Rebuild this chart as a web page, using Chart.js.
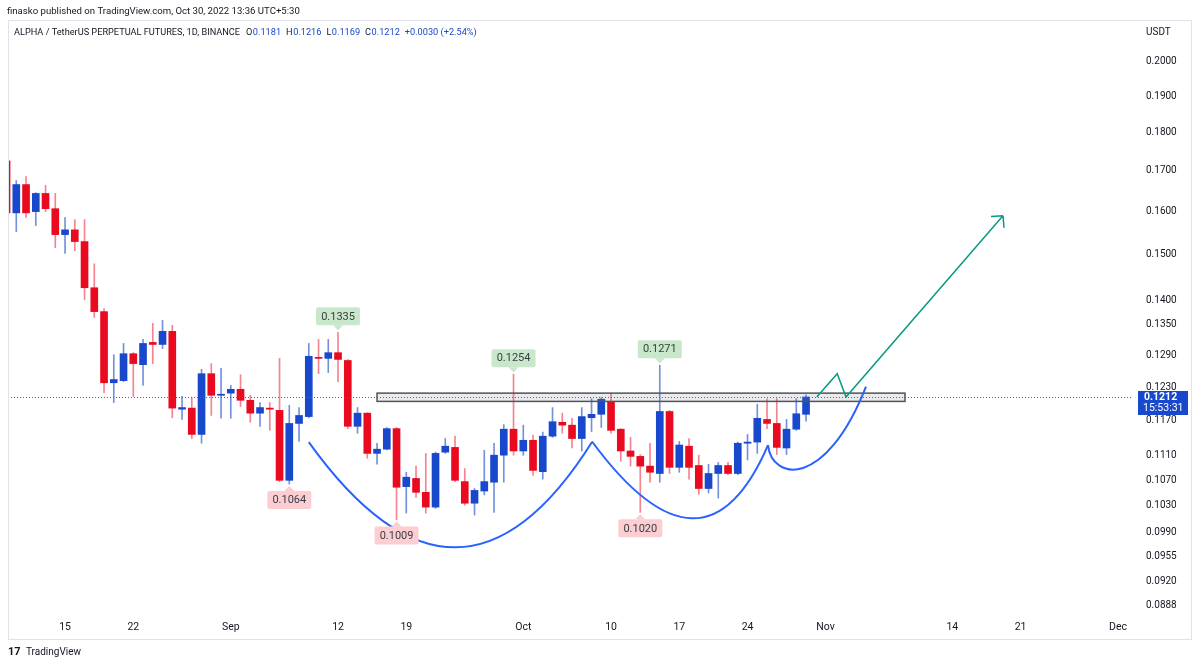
<!DOCTYPE html>
<html>
<head>
<meta charset="utf-8">
<title>ALPHA / TetherUS PERPETUAL FUTURES, 1D</title>
<script src="https://cdn.jsdelivr.net/npm/chart.js@4.4.0/dist/chart.umd.min.js"></script>
<style>
  html, body { margin: 0; padding: 0; background: #fff; }
  #wrap { position: relative; width: 1200px; height: 665px; }
</style>
</head>
<body>
<div id="wrap"><canvas id="alphaChart"></canvas></div>
<script>
// Daily candles ALPHA/USDT perp (Binance), values
const dates = [
  '2022-08-09','2022-08-10','2022-08-11','2022-08-12','2022-08-13','2022-08-14','2022-08-15','2022-08-16',
  '2022-08-17','2022-08-18','2022-08-19','2022-08-20','2022-08-21','2022-08-22','2022-08-23','2022-08-24',
  '2022-08-25','2022-08-26','2022-08-27','2022-08-28','2022-08-29','2022-08-30','2022-08-31',
  '2022-09-01','2022-09-02','2022-09-03','2022-09-04','2022-09-05','2022-09-06','2022-09-07','2022-09-08',
  '2022-09-09','2022-09-10','2022-09-11','2022-09-12','2022-09-13','2022-09-14','2022-09-15','2022-09-16',
  '2022-09-17','2022-09-18','2022-09-19','2022-09-20','2022-09-21','2022-09-22','2022-09-23','2022-09-24',
  '2022-09-25','2022-09-26','2022-09-27','2022-09-28','2022-09-29','2022-09-30',
  '2022-10-01','2022-10-02','2022-10-03','2022-10-04','2022-10-05','2022-10-06','2022-10-07','2022-10-08',
  '2022-10-09','2022-10-10','2022-10-11','2022-10-12','2022-10-13','2022-10-14','2022-10-15','2022-10-16',
  '2022-10-17','2022-10-18','2022-10-19','2022-10-20','2022-10-21','2022-10-22','2022-10-23','2022-10-24',
  '2022-10-25','2022-10-26','2022-10-27','2022-10-28','2022-10-29','2022-10-30'
];
const opens = [
  0.1725, 0.1596, 0.1665, 0.1599, 0.1643, 0.1606, 0.1545, 0.1556, 0.1529, 0.1427, 0.1377, 0.1238,
  0.1242, 0.1293, 0.1272, 0.1315, 0.1311, 0.1337, 0.1190, 0.1192, 0.1146, 0.1255, 0.1215,
  0.1219, 0.1226, 0.1206, 0.1183, 0.1192, 0.1188, 0.1070, 0.1165, 0.1177, 0.1286, 0.1284, 0.1295,
  0.1280, 0.1160, 0.1183, 0.1114, 0.1121, 0.1156, 0.1060, 0.1073, 0.1051, 0.1028, 0.1116, 0.1124,
  0.1068, 0.1034, 0.1053, 0.1067, 0.1111, 0.1155,
  0.1118, 0.1136, 0.1084, 0.1143, 0.1167, 0.1162, 0.1139, 0.1175, 0.1181, 0.1204, 0.1155, 0.1118,
  0.1109, 0.1093, 0.1081, 0.1186, 0.1091, 0.1126, 0.1094, 0.1057, 0.1081, 0.1094, 0.1081, 0.1131,
  0.1133, 0.1172, 0.1165, 0.1123, 0.1155, 0.1181
];
const highs = [
  0.1730, 0.1675, 0.1685, 0.1645, 0.1663, 0.1643, 0.1585, 0.1580, 0.1580, 0.1479, 0.1383, 0.1291,
  0.1313, 0.1295, 0.1321, 0.1353, 0.1359, 0.1349, 0.1213, 0.1211, 0.1263, 0.1274, 0.1265,
  0.1233, 0.1253, 0.1215, 0.1202, 0.1202, 0.1284, 0.1197, 0.1193, 0.1313, 0.1321, 0.1321, 0.1335,
  0.1282, 0.1193, 0.1184, 0.1131, 0.1158, 0.1158, 0.1083, 0.1093, 0.1114, 0.1116, 0.1139, 0.1143,
  0.1089, 0.1057, 0.1119, 0.1131, 0.1163, 0.1254,
  0.1162, 0.1145, 0.1150, 0.1193, 0.1183, 0.1174, 0.1193, 0.1209, 0.1211, 0.1219, 0.1156, 0.1141,
  0.1112, 0.1131, 0.1271, 0.1188, 0.1134, 0.1139, 0.1111, 0.1096, 0.1099, 0.1099, 0.1133, 0.1146,
  0.1199, 0.1208, 0.1209, 0.1172, 0.1209, 0.1216
];
const lows = [
  0.1592, 0.1552, 0.1585, 0.1566, 0.1599, 0.1515, 0.1502, 0.1508, 0.1402, 0.1365, 0.1220, 0.1202,
  0.1240, 0.1213, 0.1233, 0.1274, 0.1303, 0.1175, 0.1172, 0.1139, 0.1131, 0.1179, 0.1174,
  0.1174, 0.1195, 0.1167, 0.1160, 0.1153, 0.1068, 0.1064, 0.1134, 0.1175, 0.1255, 0.1257, 0.1240,
  0.1156, 0.1148, 0.1106, 0.1096, 0.1120, 0.1009, 0.1019, 0.1043, 0.1019, 0.1026, 0.1114, 0.1068,
  0.1031, 0.1016, 0.1047, 0.1020, 0.1067, 0.1111,
  0.1111, 0.1078, 0.1072, 0.1141, 0.1148, 0.1123, 0.1118, 0.1151, 0.1158, 0.1148, 0.1101, 0.1093,
  0.1020, 0.1067, 0.1067, 0.1081, 0.1083, 0.1072, 0.1048, 0.1050, 0.1042, 0.1079, 0.1079, 0.1103,
  0.1114, 0.1156, 0.1112, 0.1112, 0.1153, 0.1169
];
const closes = [
  0.1596, 0.1665, 0.1596, 0.1643, 0.1606, 0.1545, 0.1556, 0.1529, 0.1427, 0.1377, 0.1238, 0.1244,
  0.1293, 0.1274, 0.1313, 0.1311, 0.1337, 0.1192, 0.1193, 0.1146, 0.1255, 0.1215, 0.1217,
  0.1226, 0.1206, 0.1183, 0.1193, 0.1190, 0.1070, 0.1165, 0.1179, 0.1288, 0.1284, 0.1295, 0.1282,
  0.1160, 0.1183, 0.1114, 0.1121, 0.1156, 0.1059, 0.1075, 0.1051, 0.1028, 0.1114, 0.1126, 0.1070,
  0.1034, 0.1054, 0.1068, 0.1111, 0.1155, 0.1118,
  0.1136, 0.1086, 0.1143, 0.1168, 0.1162, 0.1139, 0.1177, 0.1181, 0.1208, 0.1153, 0.1118, 0.1109,
  0.1093, 0.1083, 0.1186, 0.1091, 0.1128, 0.1091, 0.1057, 0.1081, 0.1094, 0.1081, 0.1131, 0.1133,
  0.1174, 0.1165, 0.1124, 0.1155, 0.1182, 0.1212
];

// axis ticks
const tickDates = ['2022-08-15','2022-08-22','2022-09-01','2022-09-12','2022-09-19','2022-10-01','2022-10-10',
                   '2022-10-17','2022-10-24','2022-11-01','2022-11-14','2022-11-21','2022-12-01'];
const tickLabels = ['15','22','Sep','12','19','Oct','10','17','24','Nov','14','21','Dec'];
const priceTicks = [0.2000, 0.1900, 0.1800, 0.1700, 0.1600, 0.1500, 0.1400, 0.1350, 0.1290, 0.1230,
                    0.1170, 0.1110, 0.1070, 0.1030, 0.0990, 0.0955, 0.0920, 0.0888];

// drawings on the chart, as [day since Aug 1, price]
const peakMarks = ['2022-09-12', '2022-09-30', '2022-10-15'];
const troughMarks = ['2022-09-07', '2022-09-18', '2022-10-13'];
const zoneDays = [46.0, 100.15];
const zonePrices = [0.1219, 0.1204];
const cupArcs = [
  [[39.0, 0.1133], [54.0, 0.0968], [68.05, 0.1133]],
  [[68.05, 0.1134], [78.3, 0.1011], [86.1, 0.1128]]
];
const handleCurve = [[86.1, 0.1128], [86.5, 0.1070], [91.95, 0.1054], [96.15, 0.1231]];
const targetPath = [[91.1, 0.1212], [93.2, 0.1255], [94.1, 0.1212], [110.2, 0.1589]];

const headerText = 'finasko published on TradingView.com, Oct 30, 2022 13:36 UTC+5:30';
const legendTitle = 'ALPHA / TetherUS PERPETUAL FUTURES, 1D, BINANCE';
const countdown = '15:53:31';

// view window
const DAY_FROM = 8.15, DAY_TO = 123.33;
const PRICE_MIN = 0.08762, PRICE_MAX = 0.21262;

const UP = '#1848cc';
const DOWN = '#ea0a20';
const WICK_UP = 'rgba(24, 72, 204, 0.6)';
const WICK_DOWN = 'rgba(234, 10, 32, 0.5)';
const TEXT = '#131722';
const FONT = 'Roboto, "Liberation Sans", sans-serif';

const toDay = d => (Date.parse(d) - Date.parse('2022-08-01')) / 86400000;
const isUp = i => closes[i] >= opens[i];

const wickData = dates.map((d, i) => ({ x: toDay(d), y: [lows[i], highs[i]] }));
const bodyData = dates.map((d, i) => ({ x: toDay(d), y: [opens[i], closes[i]] }));

function priceTag(ctx, cx, tipY, text, above, fill) {
  const w = 44, h = 18, tri = 5;
  const top = above ? tipY - tri - h : tipY + tri;
  ctx.fillStyle = fill;
  ctx.beginPath();
  ctx.moveTo(cx - w / 2 + 2, top);
  ctx.lineTo(cx + w / 2 - 2, top);
  ctx.quadraticCurveTo(cx + w / 2, top, cx + w / 2, top + 2);
  ctx.lineTo(cx + w / 2, top + h - 2);
  ctx.quadraticCurveTo(cx + w / 2, top + h, cx + w / 2 - 2, top + h);
  ctx.lineTo(cx - w / 2 + 2, top + h);
  ctx.quadraticCurveTo(cx - w / 2, top + h, cx - w / 2, top + h - 2);
  ctx.lineTo(cx - w / 2, top + 2);
  ctx.quadraticCurveTo(cx - w / 2, top, cx - w / 2 + 2, top);
  ctx.closePath();
  ctx.fill();
  ctx.beginPath();
  if (above) {
    ctx.moveTo(cx - tri, top + h); ctx.lineTo(cx, tipY); ctx.lineTo(cx + tri, top + h);
  } else {
    ctx.moveTo(cx - tri, top); ctx.lineTo(cx, tipY); ctx.lineTo(cx + tri, top);
  }
  ctx.fill();
  ctx.fillStyle = '#3a3d45';
  ctx.font = '11px ' + FONT;
  ctx.textAlign = 'center';
  ctx.textBaseline = 'middle';
  ctx.fillText(text, cx, top + h / 2 + 0.5);
}

const drawings = {
  id: 'drawings',
  afterDatasetsDraw(chart) {
    const { ctx, chartArea: a, scales: { x, y } } = chart;
    const pt = p => [x.getPixelForValue(p[0]), y.getPixelForValue(p[1])];
    ctx.save();
    ctx.beginPath();
    ctx.rect(a.left, a.top, a.right - a.left, a.bottom - a.top);
    ctx.clip();

    // last price line
    const lastY = Math.round(y.getPixelForValue(closes[closes.length - 1])) + 0.5;
    ctx.strokeStyle = '#2962ff';
    ctx.lineWidth = 1;
    ctx.setLineDash([1, 2]);
    ctx.beginPath();
    ctx.moveTo(a.left, lastY);
    ctx.lineTo(a.right, lastY);
    ctx.stroke();
    ctx.setLineDash([]);

    // neckline zone
    const zx0 = x.getPixelForValue(zoneDays[0]), zx1 = x.getPixelForValue(zoneDays[1]);
    const zy0 = y.getPixelForValue(zonePrices[0]), zy1 = y.getPixelForValue(zonePrices[1]);
    ctx.fillStyle = 'rgba(120, 123, 134, 0.15)';
    ctx.fillRect(zx0, zy0, zx1 - zx0, zy1 - zy0);
    ctx.strokeStyle = '#50535e';
    ctx.lineWidth = 1.5;
    ctx.strokeRect(zx0, zy0, zx1 - zx0, zy1 - zy0);

    // cup arcs: quadratic through the bottom point
    ctx.strokeStyle = '#2962ff';
    ctx.lineWidth = 2;
    cupArcs.forEach(arc => {
      const [p0, v, p2] = arc.map(pt);
      const c = [2 * v[0] - (p0[0] + p2[0]) / 2, 2 * v[1] - (p0[1] + p2[1]) / 2];
      ctx.beginPath();
      ctx.moveTo(p0[0], p0[1]);
      ctx.quadraticCurveTo(c[0], c[1], p2[0], p2[1]);
      ctx.stroke();
    });
    const [h0, h1, h2, h3] = handleCurve.map(pt);
    ctx.beginPath();
    ctx.moveTo(h0[0], h0[1]);
    ctx.bezierCurveTo(h1[0], h1[1], h2[0], h2[1], h3[0], h3[1]);
    ctx.stroke();

    // target path with arrow head
    const tp = targetPath.map(pt);
    ctx.strokeStyle = '#089981';
    ctx.lineWidth = 1.5;
    ctx.beginPath();
    tp.forEach((p, i) => (i ? ctx.lineTo(p[0], p[1]) : ctx.moveTo(p[0], p[1])));
    const tip = tp[tp.length - 1], prev = tp[tp.length - 2];
    const ang = Math.atan2(tip[1] - prev[1], tip[0] - prev[0]);
    [0.8, -0.8].forEach(da => {
      ctx.moveTo(tip[0], tip[1]);
      ctx.lineTo(tip[0] - 12 * Math.cos(ang + da), tip[1] - 12 * Math.sin(ang + da));
    });
    ctx.stroke();

    // high / low tags
    peakMarks.forEach(d => {
      const i = dates.indexOf(d);
      priceTag(ctx, x.getPixelForValue(toDay(d)), y.getPixelForValue(highs[i]) - 2,
        highs[i].toFixed(4), true, '#c9e7ca');
    });
    troughMarks.forEach(d => {
      const i = dates.indexOf(d);
      priceTag(ctx, x.getPixelForValue(toDay(d)), y.getPixelForValue(lows[i]) + 2,
        lows[i].toFixed(4), false, '#fccdd1');
    });
    ctx.restore();
  },
  afterDraw(chart) {
    const { ctx, chartArea: a, scales: { y } } = chart;
    const n = closes.length;
    ctx.save();

    // panel frame
    ctx.strokeStyle = '#e0e3eb';
    ctx.lineWidth = 1;
    ctx.strokeRect(8.5, 20.5, 1183, 619);

    // last price tag on the price scale
    const lastY = Math.round(y.getPixelForValue(closes[n - 1]));
    ctx.fillStyle = UP;
    ctx.fillRect(a.right + 7, lastY - 6, 50, 24);
    ctx.fillStyle = '#fff';
    ctx.textAlign = 'left';
    ctx.textBaseline = 'middle';
    ctx.font = 'bold 10.5px ' + FONT;
    ctx.fillText(closes[n - 1].toFixed(4), a.right + 13, lastY);
    ctx.font = '10.5px ' + FONT;
    ctx.fillText(countdown, a.right + 12, lastY + 11);

    // currency label
    ctx.fillStyle = TEXT;
    ctx.font = '10px ' + FONT;
    ctx.fillText('USDT', a.right + 15, 32);

    // header line
    ctx.font = '9.6px ' + FONT;
    ctx.fillText(headerText, 7, 12);

    // OHLC legend
    ctx.font = '9.2px ' + FONT;
    let lx = 14;
    const ly = 33;
    const put = (txt, color, gap) => {
      ctx.fillStyle = color;
      ctx.fillText(txt, lx, ly);
      lx += ctx.measureText(txt).width + gap;
    };
    put(legendTitle, TEXT, 6);
    const chg = closes[n - 1] - closes[n - 2];
    [['O', opens[n - 1]], ['H', highs[n - 1]], ['L', lows[n - 1]], ['C', closes[n - 1]]].forEach(([k, v]) => {
      put(k, TEXT, 0.5);
      put(v.toFixed(4), UP, 5);
    });
    put((chg >= 0 ? '+' : '') + chg.toFixed(4) + ' (' + (chg >= 0 ? '+' : '') +
        (chg / closes[n - 2] * 100).toFixed(2) + '%)', UP, 0);

    // footer mark
    ctx.fillStyle = TEXT;
    ctx.font = 'bold 11px ' + FONT;
    ctx.fillText('17', 8, 652);
    ctx.font = '10px ' + FONT;
    ctx.fillText('TradingView', 26, 652);
    ctx.restore();
  }
};

const ctx = document.getElementById('alphaChart').getContext('2d');
new Chart(ctx, {
  type: 'bar',
  data: {
    datasets: [
      {
        label: 'wick',
        data: wickData,
        grouped: false,
        barThickness: 1,
        backgroundColor: c => (isUp(c.dataIndex) ? WICK_UP : WICK_DOWN),
        order: 2
      },
      {
        label: 'body',
        data: bodyData,
        grouped: false,
        barThickness: 7,
        minBarLength: 1,
        backgroundColor: c => (isUp(c.dataIndex) ? UP : DOWN),
        order: 1
      }
    ]
  },
  options: {
    responsive: true,
    maintainAspectRatio: false,
    animation: false,
    layout: { padding: { left: 8, top: 20, right: 8, bottom: 25 } },
    plugins: { legend: { display: false }, tooltip: { enabled: false } },
    scales: {
      x: {
        type: 'linear',
        min: DAY_FROM,
        max: DAY_TO,
        offset: false,
        grid: { display: false, drawTicks: false },
        border: { display: false },
        afterBuildTicks: s => { s.ticks = tickDates.map(d => ({ value: toDay(d) })); },
        afterFit: s => { s.height = 26; },
        ticks: {
          autoSkip: false,
          maxRotation: 0,
          padding: 7,
          color: TEXT,
          font: { family: FONT, size: 10.5 },
          callback: (v, i) => tickLabels[i]
        }
      },
      y: {
        type: 'logarithmic',
        position: 'right',
        min: PRICE_MIN,
        max: PRICE_MAX,
        grid: { display: false, drawTicks: false },
        border: { display: false },
        afterBuildTicks: s => { s.ticks = priceTicks.map(v => ({ value: v })); },
        afterFit: s => { s.width = 61; },
        ticks: {
          autoSkip: false,
          padding: 15,
          color: TEXT,
          font: { family: FONT, size: 10 },
          callback: v => Number(v).toFixed(4)
        }
      }
    }
  },
  plugins: [drawings]
});
</script>
</body>
</html>
